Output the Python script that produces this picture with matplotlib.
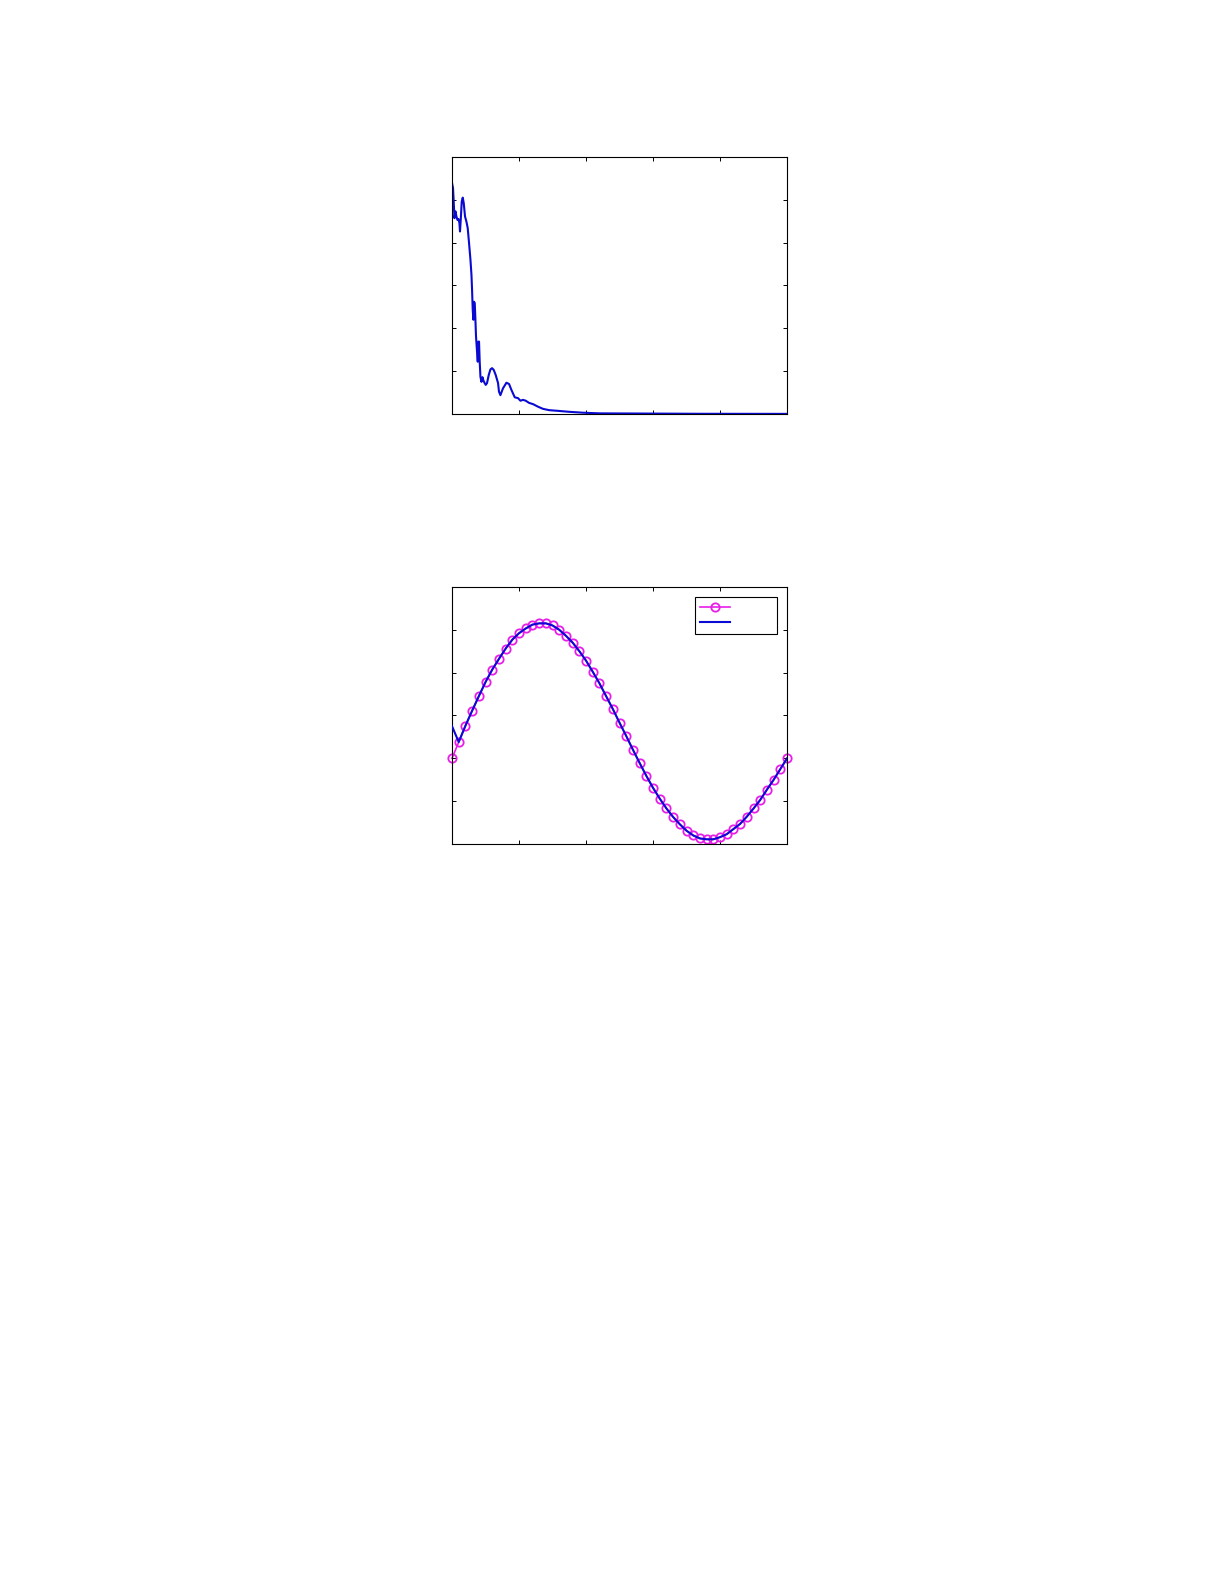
from matplotlib import pyplot as plt
import numpy as np

# top panel: traced decay curve (x 0..500, y 0..6)
decay_x = [0, 1.5, 2.5, 3.6, 5.1, 6.6, 8.1, 9.6, 11.0, 11.9, 13.0, 14.5, 16.0, 17.5,
           19.4, 21.5, 23.4, 25.4, 27.5, 29.0, 29.9, 30.9, 31.9, 32.8, 33.9, 34.9,
           35.8, 37.3, 38.4, 39.4, 40.3, 41.3, 42.4, 43.9, 45.4, 46.9, 48.4, 50.3,
           52.2, 54.8, 57.3, 59.7, 62.2, 65.2, 68.7, 70.1, 72.2, 76.1, 81.2, 85.1,
           88.7, 93.6, 98.5, 102.1, 106.0, 110.0, 114.9, 120.9, 128.4, 135.8, 144.8,
           160.7, 175.7, 195.5, 220.4, 295.1, 369.7, 500]
decay_y = [5.39, 5.27, 4.96, 4.57, 4.73, 4.61, 4.53, 4.55, 4.46, 4.26, 4.53, 4.96,
           5.05, 4.92, 4.61, 4.49, 4.34, 3.99, 3.60, 3.25, 2.90, 2.43, 2.20, 2.62,
           2.59, 2.20, 1.81, 1.46, 1.22, 1.69, 1.69, 1.22, 0.87, 0.75, 0.86, 0.78,
           0.73, 0.68, 0.72, 0.91, 1.04, 1.07, 1.03, 0.91, 0.72, 0.52, 0.44, 0.60,
           0.73, 0.70, 0.56, 0.39, 0.37, 0.31, 0.33, 0.31, 0.26, 0.23, 0.17, 0.12,
           0.09, 0.07, 0.05, 0.03, 0.015, 0.01, 0.005, 0.003]

# bottom panel: sampled signal (51 samples) and its reconstruction
samples = [0.0, 0.38, 0.76, 1.11, 1.45, 1.78, 2.07, 2.32, 2.56, 2.77, 2.92, 3.03,
           3.12, 3.15, 3.15, 3.10, 3.00, 2.86, 2.70, 2.50, 2.28, 2.02, 1.75, 1.45,
           1.15, 0.83, 0.52, 0.20, -0.11, -0.41, -0.69, -0.94, -1.17, -1.37, -1.54,
           -1.69, -1.80, -1.87, -1.89, -1.89, -1.84, -1.77, -1.65, -1.53, -1.36,
           -1.17, -0.97, -0.73, -0.50, -0.25, 0.0]
recon = [0.75] + samples[1:]
n = np.arange(len(samples))

blue = '#0a0ad2'
magenta = '#e81ee8'

fig = plt.figure(figsize=(12.25, 15.85), dpi=100)

def style_axes(ax):
    ax.tick_params(direction='in', length=3, width=0.7, top=True, right=True,
                   labelbottom=False, labelleft=False)
    for s in ax.spines.values():
        s.set_linewidth(0.8)

ax1 = fig.add_axes([0.369, 0.7388, 0.2735, 0.1622])
ax1.plot(decay_x, decay_y, color=blue, lw=1.5)
ax1.set_xlim(0, 500)
ax1.set_ylim(0, 6)
ax1.set_xticks(np.arange(0, 501, 100))
ax1.set_yticks(np.arange(0, 7, 1))
style_axes(ax1)

ax2 = fig.add_axes([0.369, 0.4675, 0.2735, 0.1622])
ax2.plot(n, samples, color=magenta, lw=1.2, marker='o', ms=6, mfc='none',
         mec=magenta, mew=1.3, label=' ' * 10, clip_on=False, zorder=2)
ax2.plot(n, recon, color=blue, lw=1.5, label=' ' * 10, zorder=3)
ax2.set_xlim(0, 50)
ax2.set_ylim(-2, 4)
ax2.set_xticks(np.arange(0, 51, 10))
ax2.set_yticks(np.arange(-2, 5, 1))
style_axes(ax2)
leg = ax2.legend(loc='upper right', fontsize=8, frameon=True, fancybox=False,
                 edgecolor='black', framealpha=1, borderaxespad=0.95,
                 handlelength=2.7, borderpad=0.5, labelspacing=0.45,
                 handletextpad=0.5)
leg.get_frame().set_linewidth(0.8)

plt.savefig('out.png', dpi=100)
